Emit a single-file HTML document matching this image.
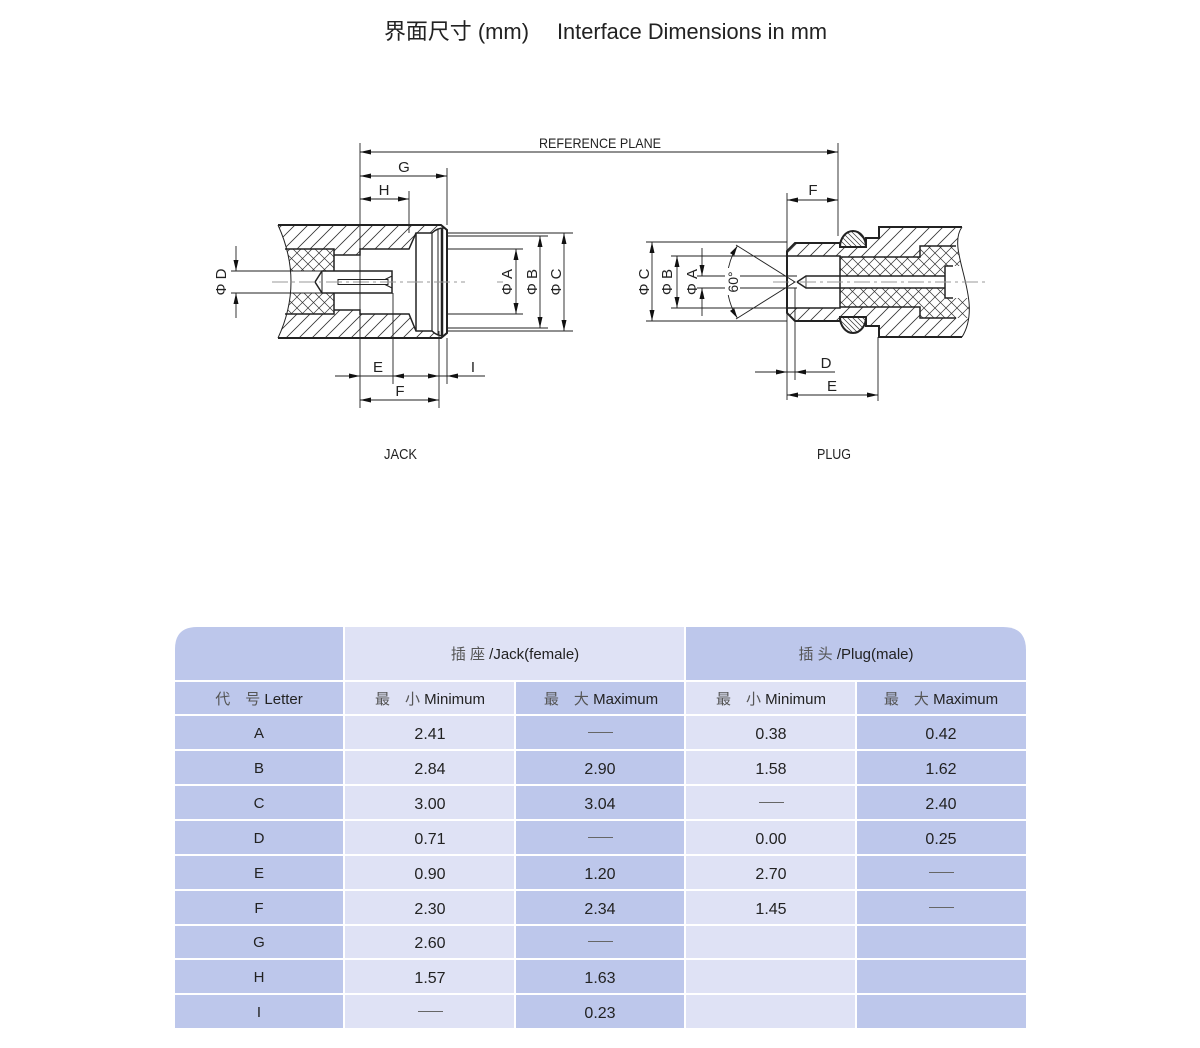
<!DOCTYPE html>
<html><head><meta charset="utf-8"><style>
html,body{margin:0;padding:0;background:#fff;}
svg{display:block;}
.t{font-family:"Liberation Sans","Noto Sans CJK SC",sans-serif;fill:#222;}
</style></head><body>
<svg width="1200" height="1048" viewBox="0 0 1200 1048" xmlns="http://www.w3.org/2000/svg">
<defs>
<pattern id="h" patternUnits="userSpaceOnUse" width="13" height="13">
<path d="M0,13 L13,0 M-2,2 L2,-2 M11,15 L15,11" stroke="#333" stroke-width="0.8"/>
</pattern>
<pattern id="h2" patternUnits="userSpaceOnUse" width="5" height="5">
<path d="M0,0 L5,5 M-1,4 L1,6 M4,-1 L6,1" stroke="#333" stroke-width="0.7"/>
</pattern>
<pattern id="x" patternUnits="userSpaceOnUse" width="11" height="11">
<path d="M0,11 L11,0 M0,0 L11,11" stroke="#333" stroke-width="0.7"/>
</pattern>
<clipPath id="jc"><path d="M278,225 L441,225 L447,230 L447,333 L441,338 L278,338 Q304,282 278,225 Z"/></clipPath>
<clipPath id="pc"><path d="M787,251 L795,243 H840 V247 H866 V238 H879 V227 H962 C945,250 985,300 962,337 H879 V326 H866 V317 H840 V321 H795 L787,313 Z"/></clipPath>
</defs>

<!-- Title -->
<text class="t" x="384" y="39" font-size="22" textLength="145" lengthAdjust="spacingAndGlyphs">界面尺寸 (mm)</text>
<text class="t" x="557" y="39" font-size="22" textLength="270" lengthAdjust="spacingAndGlyphs">Interface Dimensions in mm</text>

<!-- ===== JACK ===== -->
<g clip-path="url(#jc)">
<rect x="270" y="220" width="185" height="125" fill="url(#h)"/>
<rect x="270" y="249" width="64" height="65" fill="#fff"/>
<rect x="270" y="249" width="64" height="65" fill="url(#x)"/>
<rect x="270" y="271" width="64" height="22" fill="#fff"/>
<rect x="334" y="255" width="26" height="55" fill="#fff"/>
<rect x="360" y="249" width="52" height="65" fill="#fff"/>
<polygon points="409,249 416,233 432,233 440,228 450,228 450,336 440,336 432,331 416,331 409,314" fill="#fff"/>
</g>
<g fill="none" stroke="#222">
<path d="M278,225 H441 L447,230 V333 L441,338 H278" stroke-width="2"/>
<path d="M278,225 Q304,282 278,338" stroke-width="1"/>
<path d="M285,249 H334 V271 M334,255 H360 V249 H409 L416,233 H432 Q437,228 444,228" stroke-width="1.5"/>
<path d="M285,314 H334 V293 M334,310 H360 V314 H409 L416,331 H432 Q437,336 444,336" stroke-width="1.5"/>
<path d="M290,271 H334 M290,293 H334" stroke-width="1"/>
<path d="M416,233 V331" stroke-width="1.5"/>
<path d="M432,233 V331" stroke-width="1.2"/>
<path d="M438,229 V335" stroke-width="1"/>
<path d="M442,228 V336" stroke-width="2.5"/>
</g>
<path d="M315,282 L322,271 H392 V293 H322 Z" fill="#fff" stroke="#222" stroke-width="1.5"/>
<g fill="none" stroke="#222" stroke-width="1">
<path d="M322,271 V293"/>
<rect x="338" y="279.5" width="50" height="5"/>
<path d="M385,279.5 L392,276 M385,284.5 L392,288"/>
</g>

<!-- jack centerline -->
<g stroke="#999" stroke-width="1" fill="none">
<path d="M272,282 H465" stroke-dasharray="16 4 3 4"/>
<path d="M497,282 H503"/>
</g>

<!-- jack dimensions -->
<g stroke="#222" stroke-width="0.9" fill="none">
<path d="M360,152 H838"/>
<path d="M360,143 V408"/>
<path d="M838,143 V236"/>
<path d="M360,176 H447 M447,168 V225"/>
<path d="M360,199 H409 M409,191 V233"/>
<path d="M231,271 H292 M231,293 H292"/>
<path d="M236,246 V271 M236,318 V293"/>
<path d="M335,376 H485"/>
<path d="M393,293 V384 M439,331 V408 M447,338 V384"/>
<path d="M360,400 H439"/>
<path d="M447,233 H573 M447,236 H548 M447,249 H523 M447,314 H523 M447,328 H548 M447,331 H573"/>
<path d="M516,249 V314 M540,236 V328 M564,233 V331"/>
</g>
<g fill="#111">
<polygon points="360,152 371,149.5 371,154.5"/>
<polygon points="838,152 827,149.5 827,154.5"/>
<polygon points="360,176 371,173.5 371,178.5"/>
<polygon points="447,176 436,173.5 436,178.5"/>
<polygon points="360,199 371,196.5 371,201.5"/>
<polygon points="409,199 398,196.5 398,201.5"/>
<polygon points="236,271 233.5,260 238.5,260"/>
<polygon points="236,293 233.5,304 238.5,304"/>
<polygon points="360,376 349,373.5 349,378.5"/>
<polygon points="393,376 404,373.5 404,378.5"/>
<polygon points="439,376 428,373.5 428,378.5"/>
<polygon points="447,376 458,373.5 458,378.5"/>
<polygon points="360,400 371,397.5 371,402.5"/>
<polygon points="439,400 428,397.5 428,402.5"/>
<polygon points="516,249 513.5,260 518.5,260"/>
<polygon points="516,314 513.5,303 518.5,303"/>
<polygon points="540,236 537.5,247 542.5,247"/>
<polygon points="540,328 537.5,317 542.5,317"/>
<polygon points="564,233 561.5,244 566.5,244"/>
<polygon points="564,331 561.5,320 566.5,320"/>
</g>
<g class="t" font-size="15" text-anchor="middle">
<text x="600" y="148" font-size="14" textLength="122" lengthAdjust="spacingAndGlyphs">REFERENCE PLANE</text>
<text x="404" y="172">G</text>
<text x="384" y="195">H</text>
<text x="378" y="372">E</text>
<text x="473" y="372">I</text>
<text x="400" y="396">F</text>
<text x="226" y="282" transform="rotate(-90 226 282)">Φ D</text>
<text x="512" y="282" transform="rotate(-90 512 282)">Φ A</text>
<text x="537" y="282" transform="rotate(-90 537 282)">Φ B</text>
<text x="561" y="282" transform="rotate(-90 561 282)">Φ C</text>
</g>

<!-- ===== PLUG ===== -->
<g clip-path="url(#pc)">
<rect x="780" y="220" width="210" height="125" fill="url(#h)"/>
<rect x="780" y="256" width="60" height="52" fill="#fff"/>
<path d="M840,257 H920 V246 H990 V318 H920 V307 H840 Z" fill="#fff"/>
<path d="M840,257 H920 V246 H990 V318 H920 V307 H840 Z" fill="url(#x)"/>
<rect x="806" y="276" width="139" height="12" fill="#fff"/>
<rect x="945" y="266" width="50" height="32" fill="#fff"/>
</g>
<path d="M840,247 A13,16 0 0 1 866,247 Z" fill="#fff"/>
<path d="M840,247 A13,16 0 0 1 866,247 Z" fill="url(#h2)" stroke="#222" stroke-width="2"/>
<path d="M840,317 A13,16 0 0 0 866,317 Z" fill="#fff"/>
<path d="M840,317 A13,16 0 0 0 866,317 Z" fill="url(#h2)" stroke="#222" stroke-width="2"/>
<g fill="none" stroke="#222">
<path d="M962,227 H879 V238 H866 V247 H840 V243 H795 L787,251 V313 L795,321 H840 V317 H866 V326 H879 V337 H962" stroke-width="2"/>
<path d="M962,227 C945,250 985,300 962,337" stroke-width="1"/>
<path d="M787,256 H840 V308 H787" stroke-width="1.5"/>
<path d="M840,257 H920 V246 H956 M840,307 H920 V318 H956" stroke-width="1.5"/>
<path d="M797,282 L806,276 H945 M797,282 L806,288 H945 M945,266 V298 M945,266 H953 M945,298 H953" stroke-width="1.5"/>
<path d="M806,276 V288" stroke-width="0.8"/>
</g>
<path d="M773,282 H987" stroke="#999" stroke-width="1" stroke-dasharray="16 4 3 4"/>

<!-- plug dimensions -->
<g stroke="#222" stroke-width="0.9" fill="none">
<path d="M787,200 H838 M787,193 V400"/>
<path d="M646,242 H787 M646,321 H787 M652,242 V321"/>
<path d="M671,256 H787 M671,308 H787 M677,256 V308"/>
<path d="M697,276 H797 M697,288 H797 M702,248 V276 M702,316 V288"/>
<path d="M795,282 L736,245 M795,282 L736,319"/>
<path d="M737.4,245.9 A68,68 0 0 0 737.4,318.1"/>
<path d="M755,372 H835 M795,288 V380"/>
<path d="M787,395 H878 M878,337 V401"/>
</g>
<rect x="725" y="268" width="15" height="27" fill="#fff"/>
<g fill="#111">
<polygon points="787,200 798,197.5 798,202.5"/>
<polygon points="838,200 827,197.5 827,202.5"/>
<polygon points="652,242 649.5,253 654.5,253"/>
<polygon points="652,321 649.5,310 654.5,310"/>
<polygon points="677,256 674.5,267 679.5,267"/>
<polygon points="677,308 674.5,297 679.5,297"/>
<polygon points="702,276 699.5,265 704.5,265"/>
<polygon points="702,288 699.5,299 704.5,299"/>
<polygon points="737.4,245.9 734.2,255.7 730.0,253.1"/>
<polygon points="737.4,318.1 734.2,308.3 730.0,310.9"/>
<polygon points="787,372 776,369.5 776,374.5"/>
<polygon points="795,372 806,369.5 806,374.5"/>
<polygon points="787,395 798,392.5 798,397.5"/>
<polygon points="878,395 867,392.5 867,397.5"/>
</g>
<g class="t" font-size="15" text-anchor="middle">
<text x="813" y="195">F</text>
<text x="826" y="368">D</text>
<text x="832" y="391">E</text>
<text x="649" y="282" transform="rotate(-90 649 282)">Φ C</text>
<text x="672" y="282" transform="rotate(-90 672 282)">Φ B</text>
<text x="697" y="282" transform="rotate(-90 697 282)">Φ A</text>
<text x="738" y="282" font-size="14" transform="rotate(-90 738 282)">60°</text>
</g>

<g class="t" font-size="15">
<text x="384" y="459" textLength="33" lengthAdjust="spacingAndGlyphs">JACK</text>
<text x="817" y="459" textLength="34" lengthAdjust="spacingAndGlyphs">PLUG</text>
</g>

<!-- ===== TABLE ===== -->
<g>
<path d="M175,680 V649 Q175,627 197,627 H343 V680 Z" fill="#bdc7eb"/>
<rect x="345" y="627" width="339" height="53" fill="#dfe2f5"/>
<path d="M686,627 H1003 Q1026,627 1026,650 V680 H686 Z" fill="#bdc7eb"/>
<!-- row 2 and data rows -->
<g>
<rect x="175" y="682" width="168" height="32" fill="#bdc7eb"/>
<rect x="345" y="682" width="169" height="32" fill="#dfe2f5"/>
<rect x="516" y="682" width="168" height="32" fill="#bdc7eb"/>
<rect x="686" y="682" width="169" height="32" fill="#dfe2f5"/>
<rect x="857" y="682" width="169" height="32" fill="#bdc7eb"/>
</g>
<g id="rows">
<!-- A -->
<rect x="175" y="716" width="168" height="33" fill="#bdc7eb"/><rect x="345" y="716" width="169" height="33" fill="#dfe2f5"/><rect x="516" y="716" width="168" height="33" fill="#bdc7eb"/><rect x="686" y="716" width="169" height="33" fill="#dfe2f5"/><rect x="857" y="716" width="169" height="33" fill="#bdc7eb"/>
<!-- B -->
<rect x="175" y="751" width="168" height="33" fill="#bdc7eb"/><rect x="345" y="751" width="169" height="33" fill="#dfe2f5"/><rect x="516" y="751" width="168" height="33" fill="#bdc7eb"/><rect x="686" y="751" width="169" height="33" fill="#dfe2f5"/><rect x="857" y="751" width="169" height="33" fill="#bdc7eb"/>
<!-- C -->
<rect x="175" y="786" width="168" height="33" fill="#bdc7eb"/><rect x="345" y="786" width="169" height="33" fill="#dfe2f5"/><rect x="516" y="786" width="168" height="33" fill="#bdc7eb"/><rect x="686" y="786" width="169" height="33" fill="#dfe2f5"/><rect x="857" y="786" width="169" height="33" fill="#bdc7eb"/>
<!-- D -->
<rect x="175" y="821" width="168" height="33" fill="#bdc7eb"/><rect x="345" y="821" width="169" height="33" fill="#dfe2f5"/><rect x="516" y="821" width="168" height="33" fill="#bdc7eb"/><rect x="686" y="821" width="169" height="33" fill="#dfe2f5"/><rect x="857" y="821" width="169" height="33" fill="#bdc7eb"/>
<!-- E -->
<rect x="175" y="856" width="168" height="33" fill="#bdc7eb"/><rect x="345" y="856" width="169" height="33" fill="#dfe2f5"/><rect x="516" y="856" width="168" height="33" fill="#bdc7eb"/><rect x="686" y="856" width="169" height="33" fill="#dfe2f5"/><rect x="857" y="856" width="169" height="33" fill="#bdc7eb"/>
<!-- F -->
<rect x="175" y="891" width="168" height="33" fill="#bdc7eb"/><rect x="345" y="891" width="169" height="33" fill="#dfe2f5"/><rect x="516" y="891" width="168" height="33" fill="#bdc7eb"/><rect x="686" y="891" width="169" height="33" fill="#dfe2f5"/><rect x="857" y="891" width="169" height="33" fill="#bdc7eb"/>
<!-- G -->
<rect x="175" y="926" width="168" height="32" fill="#bdc7eb"/><rect x="345" y="926" width="169" height="32" fill="#dfe2f5"/><rect x="516" y="926" width="168" height="32" fill="#bdc7eb"/><rect x="686" y="926" width="169" height="32" fill="#dfe2f5"/><rect x="857" y="926" width="169" height="32" fill="#bdc7eb"/>
<!-- H -->
<rect x="175" y="960" width="168" height="33" fill="#bdc7eb"/><rect x="345" y="960" width="169" height="33" fill="#dfe2f5"/><rect x="516" y="960" width="168" height="33" fill="#bdc7eb"/><rect x="686" y="960" width="169" height="33" fill="#dfe2f5"/><rect x="857" y="960" width="169" height="33" fill="#bdc7eb"/>
<!-- I -->
<rect x="175" y="995" width="168" height="33" fill="#bdc7eb"/><rect x="345" y="995" width="169" height="33" fill="#dfe2f5"/><rect x="516" y="995" width="168" height="33" fill="#bdc7eb"/><rect x="686" y="995" width="169" height="33" fill="#dfe2f5"/><rect x="857" y="995" width="169" height="33" fill="#bdc7eb"/>
</g>
</g>

<g class="t" font-size="15" text-anchor="middle" fill="#333">
<text x="515" y="659"><tspan fill="#555">插 座</tspan> /Jack(female)</text>
<text x="856" y="659"><tspan fill="#555">插 头</tspan> /Plug(male)</text>
<text x="259" y="704"><tspan fill="#555">代　号</tspan> Letter</text>
<text x="430" y="704"><tspan fill="#555">最　小</tspan> Minimum</text>
<text x="601" y="704"><tspan fill="#555">最　大</tspan> Maximum</text>
<text x="771" y="704"><tspan fill="#555">最　小</tspan> Minimum</text>
<text x="941" y="704"><tspan fill="#555">最　大</tspan> Maximum</text>
</g>

<g class="t" font-size="15" text-anchor="middle" fill="#444">
<text x="259" y="738">A</text>
<text x="259" y="773">B</text>
<text x="259" y="808">C</text>
<text x="259" y="843">D</text>
<text x="259" y="878">E</text>
<text x="259" y="913">F</text>
<text x="259" y="947">G</text>
<text x="259" y="982">H</text>
<text x="259" y="1017">I</text>
</g>

<g class="t" font-size="16" text-anchor="middle" fill="#222">
<text x="430" y="739">2.41</text><text x="771" y="739">0.38</text><text x="941" y="739">0.42</text>
<text x="430" y="774">2.84</text><text x="600" y="774">2.90</text><text x="771" y="774">1.58</text><text x="941" y="774">1.62</text>
<text x="430" y="809">3.00</text><text x="600" y="809">3.04</text><text x="941" y="809">2.40</text>
<text x="430" y="844">0.71</text><text x="771" y="844">0.00</text><text x="941" y="844">0.25</text>
<text x="430" y="879">0.90</text><text x="600" y="879">1.20</text><text x="771" y="879">2.70</text>
<text x="430" y="914">2.30</text><text x="600" y="914">2.34</text><text x="771" y="914">1.45</text>
<text x="430" y="948">2.60</text>
<text x="430" y="983">1.57</text><text x="600" y="983">1.63</text>
<text x="600" y="1018">0.23</text>
</g>

<g stroke="#666" stroke-width="1">
<path d="M588,732.5 H613"/>
<path d="M759,802.5 H784"/>
<path d="M588,837.5 H613"/>
<path d="M929,872.5 H954"/>
<path d="M929,907.5 H954"/>
<path d="M588,941.5 H613"/>
<path d="M418,1011.5 H443"/>
</g>
</svg>
</body></html>
